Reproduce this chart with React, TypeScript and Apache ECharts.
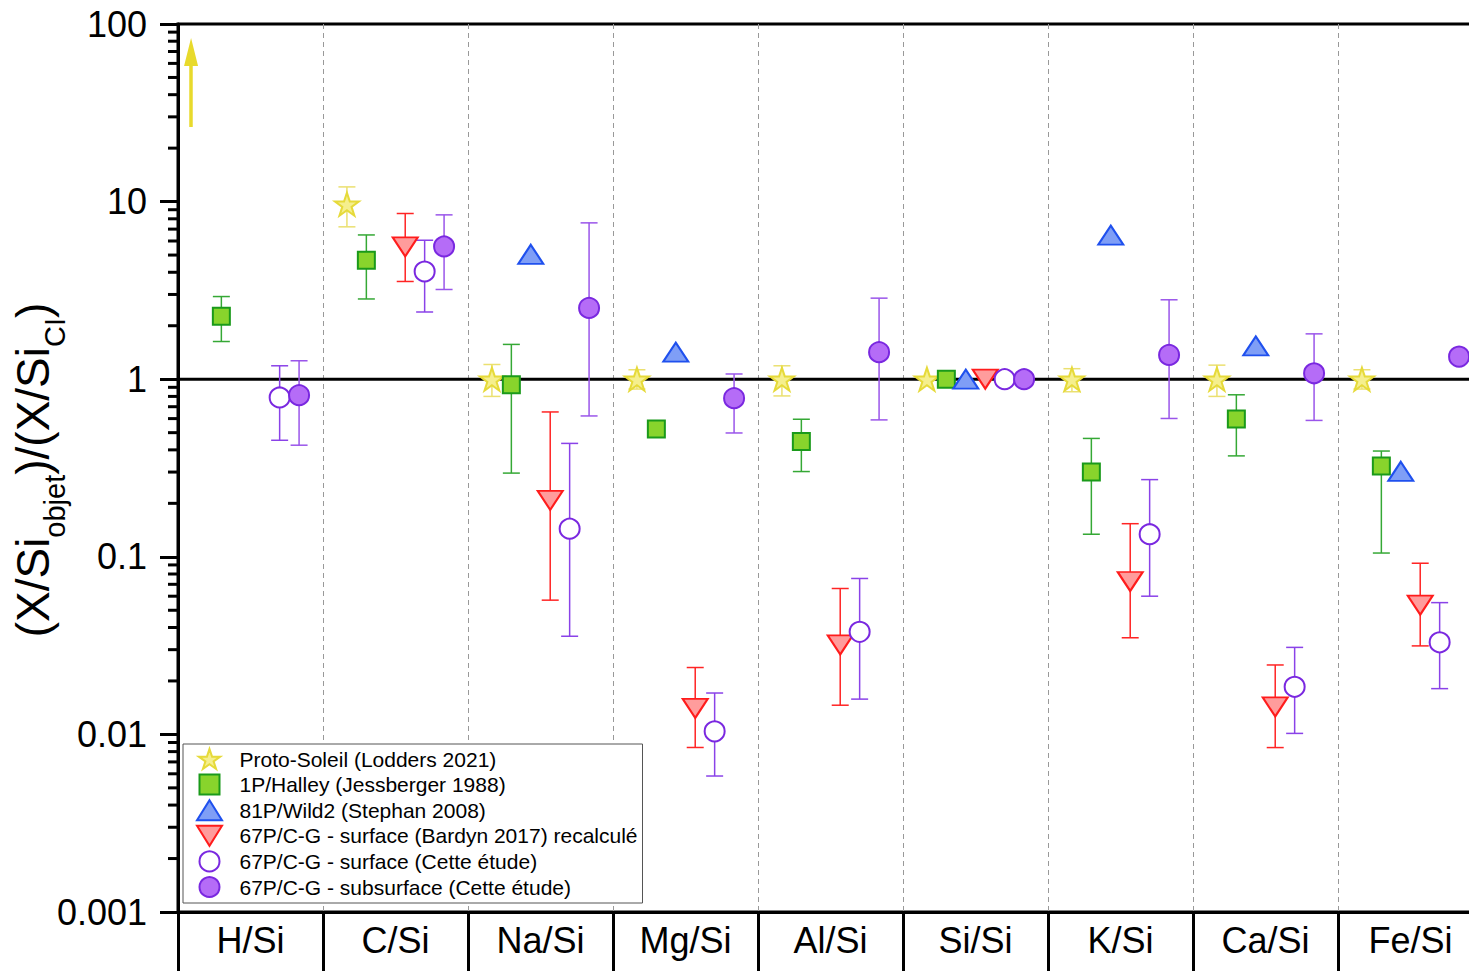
import React, { useEffect, useRef } from 'react';
import * as echarts from 'echarts';

const FONT = '"Liberation Sans", Arial, sans-serif';

const categories = ['H/Si', 'C/Si', 'Na/Si', 'Mg/Si', 'Al/Si', 'Si/Si', 'K/Si', 'Ca/Si', 'Fe/Si'];
const yTickLabels = ['0.001', '0.01', '0.1', '1', '10', '100'];
const minorTickMultipliers = [2, 3, 4, 5, 6, 7, 8, 9];
const decades = [0.001, 0.01, 0.1, 1, 10];

// Proto-Soleil (Lodders 2021)
const protoSun = [null, 9.67, 1.0, 1.0, 1.0, 1.0, 1.0, 1.0, 1.0];
const protoSunLow = [null, 7.21, 0.80, 0.88, 0.805, null, 0.85, 0.80, 0.88];
const protoSunHigh = [null, 12.1, 1.21, 1.13, 1.19, null, 1.146, 1.2, 1.13];
// H/Si arrow (value off-scale): start and end of arrow on the y axis
const protoSunArrowX = 0.09;
const protoSunArrow = [26.3, 69.6];

// 1P/Halley (Jessberger 1988)
const halley = [2.26, 4.68, 0.932, 0.524, 0.446, 1.0, 0.300, 0.596, 0.325];
const halleyLow = [1.63, 2.83, 0.296, 0.49, 0.302, null, 0.134, 0.37, 0.105];
const halleyHigh = [2.92, 6.49, 1.57, 0.565, 0.595, null, 0.464, 0.817, 0.394];

// 81P/Wild2 (Stephan 2008)
const wild2 = [null, null, 5.05, 1.42, null, 1.0, 6.47, 1.54, 0.303];

// 67P/C-G surface (Bardyn 2017) recalculé
const bardyn = [null, 5.56, 0.208, 0.0140, 0.0319, 1.0, 0.0726, 0.01427, 0.0534];
const bardynLow = [null, 3.55, 0.057, 0.00844, 0.0146, null, 0.035, 0.00843, 0.0315];
const bardynHigh = [null, 8.57, 0.654, 0.0238, 0.0663, null, 0.1536, 0.0246, 0.092];

// 67P/C-G surface (Cette étude)
const surface = [0.789, 4.04, 0.144, 0.0104, 0.0378, 1.0, 0.134, 0.01853, 0.033];
const surfaceLow = [0.453, 2.39, 0.0357, 0.00583, 0.0158, null, 0.060, 0.01013, 0.0181];
const surfaceHigh = [1.19, 6.06, 0.435, 0.0171, 0.0755, null, 0.272, 0.0309, 0.0552];

// 67P/C-G subsurface (Cette étude)
const subsurface = [0.813, 5.59, 2.52, 0.782, 1.42, 1.0, 1.37, 1.08, 1.34];
const subsurfaceLow = [0.425, 3.2, 0.621, 0.498, 0.59, null, 0.601, 0.586, 1.25];
const subsurfaceHigh = [1.27, 8.42, 7.59, 1.07, 2.86, null, 2.8, 1.8, 1.43];

const referenceLine = [1, 1];

const STAR = 'path://M50,0 L61.8,35.1 L98.9,35.1 L68.8,56.8 L80.3,91.9 L50,70.2 L19.7,91.9 L31.2,56.8 L1.1,35.1 L38.2,35.1 Z';
const SQUARE_ICON = 'path://M0,0 L10,0 L10,10 L0,10 Z';
const UP_ICON = 'path://M6.25,0 L12.5,10 L0,10 Z';
const DOWN_ICON = 'path://M0,0 L12.5,0 L6.25,10 Z';

const offsets = [0.165, 0.299, 0.433, 0.567, 0.701, 0.835];

type Def = {
  name: string;
  values: (number | null)[];
  low?: (number | null)[];
  high?: (number | null)[];
  symbol: string;
  icon: string;
  symbolSize: number | number[];
  rotate?: number;
  fill: string;
  stroke: string;
  errColor: string;
};

const defs: Def[] = [
  { name: 'Proto-Soleil (Lodders 2021)', values: protoSun, low: protoSunLow, high: protoSunHigh, symbol: STAR, icon: STAR, symbolSize: [24, 23], fill: '#f5ef8e', stroke: '#e6da3a', errColor: '#ebe070' },
  { name: '1P/Halley (Jessberger 1988)', values: halley, low: halleyLow, high: halleyHigh, symbol: 'rect', icon: SQUARE_ICON, symbolSize: 17, fill: '#88d42c', stroke: '#1a9a1a', errColor: '#35a835' },
  { name: '81P/Wild2 (Stephan 2008)', values: wild2, symbol: 'triangle', icon: UP_ICON, symbolSize: [25, 19], fill: '#7f9ef6', stroke: '#1f50ee', errColor: '#1f50ee' },
  { name: '67P/C-G - surface (Bardyn 2017) recalculé', values: bardyn, low: bardynLow, high: bardynHigh, symbol: 'triangle', icon: DOWN_ICON, symbolSize: [25, 19], rotate: 180, fill: '#ff9c9c', stroke: '#ff1c1c', errColor: '#ff2424' },
  { name: '67P/C-G - surface (Cette étude)', values: surface, low: surfaceLow, high: surfaceHigh, symbol: 'circle', icon: 'circle', symbolSize: 20, fill: '#ffffff', stroke: '#7a28e0', errColor: '#8a42e8' },
  { name: '67P/C-G - subsurface (Cette étude)', values: subsurface, low: subsurfaceLow, high: subsurfaceHigh, symbol: 'circle', icon: 'circle', symbolSize: 20, fill: '#b56cf7', stroke: '#7a28e0', errColor: '#9a55ea' },
];

export default function App() {
  const ref = useRef<HTMLDivElement>(null);
  useEffect(() => {
    if (!ref.current) return;
    const chart = echarts.init(ref.current, null, { renderer: 'svg' });

    const series: any[] = [];

    // reference line at 1
    series.push({
      type: 'line',
      xAxisIndex: 1,
      data: [[0, referenceLine[0]], [9, referenceLine[1]]],
      symbol: 'none',
      lineStyle: { color: '#000', width: 3 },
      silent: true,
      z: 1,
    });

    // minor ticks on log axis
    const minorTicks: number[][] = [];
    decades.forEach((d) => minorTickMultipliers.forEach((m) => minorTicks.push([0, d * m])));
    series.push({
      type: 'custom',
      xAxisIndex: 1,
      clip: false,
      silent: true,
      data: minorTicks,
      encode: { x: 0, y: 1 },
      renderItem: (params: any, api: any) => {
        const p = api.coord([0, api.value(1)]);
        return {
          type: 'line',
          shape: { x1: p[0] - 10, y1: p[1], x2: p[0], y2: p[1] },
          style: { stroke: '#000', lineWidth: 3 },
        };
      },
      z: 5,
    });

    defs.forEach((d, si) => {
      if (d.low && d.high) {
        const errData: number[][] = [];
        d.values.forEach((v, i) => {
          const lo = d.low![i];
          const hi = d.high![i];
          if (v != null && lo != null && hi != null) errData.push([i + offsets[si], lo, hi]);
        });
        const color = d.errColor;
        series.push({
          type: 'custom',
          xAxisIndex: 1,
          silent: true,
          clip: false,
          data: errData,
          encode: { x: 0, y: [1, 2] },
          renderItem: (params: any, api: any) => {
            const x = api.value(0);
            const p1 = api.coord([x, api.value(1)]);
            const p2 = api.coord([x, api.value(2)]);
            const hw = 8.5;
            const st = { stroke: color, lineWidth: 1.5 };
            return {
              type: 'group',
              children: [
                { type: 'line', shape: { x1: p1[0], y1: p1[1], x2: p2[0], y2: p2[1] }, style: st },
                { type: 'line', shape: { x1: p1[0] - hw, y1: p1[1], x2: p1[0] + hw, y2: p1[1] }, style: st },
                { type: 'line', shape: { x1: p2[0] - hw, y1: p2[1], x2: p2[0] + hw, y2: p2[1] }, style: st },
              ],
            };
          },
          z: 2,
        });
      }
    });

    defs.forEach((d, si) => {
      const data: number[][] = [];
      d.values.forEach((v, i) => {
        if (v != null) data.push([i + offsets[si], v]);
      });
      const s: any = {
        type: 'scatter',
        name: d.name,
        xAxisIndex: 1,
        data,
        symbol: d.symbol,
        symbolSize: d.symbolSize,
        symbolRotate: d.rotate || 0,
        itemStyle: { color: d.fill, borderColor: d.stroke, borderWidth: 2, opacity: 1 },
        emphasis: { disabled: true },
        clip: false,
        z: 3,
      };
      if (si === 0) {
        s.markLine = {
          silent: true,
          symbol: ['none', 'triangle'],
          symbolSize: [14, 28],
          label: { show: false },
          lineStyle: { color: '#e8da2c', width: 3.5, type: 'solid' },
          data: [[{ coord: [protoSunArrowX, protoSunArrow[0]] }, { coord: [protoSunArrowX, protoSunArrow[1]] }]],
        };
      }
      series.push(s);
    });

    chart.setOption({
      animation: false,
      backgroundColor: '#ffffff',
      grid: {
        left: 178, top: 24, width: 1305, height: 888,
        outerBoundsMode: 'none',
        containLabel: false,
        show: true, borderColor: '#000', borderWidth: 3, backgroundColor: 'transparent',
      },
      legend: {
        orient: 'vertical',
        left: 183,
        top: 744,
        data: defs.map((d) => ({ name: d.name, icon: d.icon })),
        itemWidth: 50,
        itemHeight: 20,
        itemGap: 3.6,
        symbolKeepAspect: true,
        padding: [4, 5, 5, 13],
        backgroundColor: '#ffffff',
        borderColor: '#555',
        borderWidth: 1,
        borderRadius: 0,
        selectedMode: false,
        textStyle: { fontSize: 21, fontFamily: FONT, color: '#000' },
        z: 10,
      },
      xAxis: [
        {
          type: 'category',
          data: categories,
          boundaryGap: true,
          position: 'bottom',
          axisLine: { show: true, lineStyle: { color: '#000', width: 3 } },
          axisTick: { show: true, interval: 0, length: 59, lineStyle: { color: '#000', width: 3 } },
          axisLabel: { interval: 0, fontSize: 36, fontFamily: FONT, color: '#000', margin: 10 },
          splitLine: { show: true, interval: 0, lineStyle: { color: '#999', width: 1, type: [5, 4] } },
        },
        { type: 'value', min: 0, max: 9, show: false },
      ],
      yAxis: {
        type: 'log',
        logBase: 10,
        min: 0.001,
        max: 100,
        axisLine: { show: true, lineStyle: { color: '#000', width: 3 } },
        axisTick: { show: true, length: 18, lineStyle: { color: '#000', width: 3 } },
        axisLabel: {
          fontSize: 36,
          fontFamily: FONT,
          color: '#000',
          margin: 31,
          formatter: (v: number) => yTickLabels[Math.round(Math.log10(v)) + 3] ?? '',
        },
        splitLine: { show: false },
      },
      graphic: [
        {
          type: 'text',
          x: 33,
          y: 470,
          rotation: Math.PI / 2,
          style: {
            text: '(X/Si{sub|objet})/(X/Si{sub|CI})',
            fill: '#000',
            fontSize: 46,
            fontFamily: FONT,
            align: 'center',
            verticalAlign: 'middle',
            rich: {
              sub: { fontSize: 29, fontFamily: FONT, fill: '#000', padding: [44, 0, 0, 0] },
            },
          },
        },
      ],
      series,
    });
    return () => chart.dispose();
  }, []);
  return <div ref={ref} style={{ position: 'absolute', left: 0, top: 0, width: 1469, height: 971 }} />;
}
